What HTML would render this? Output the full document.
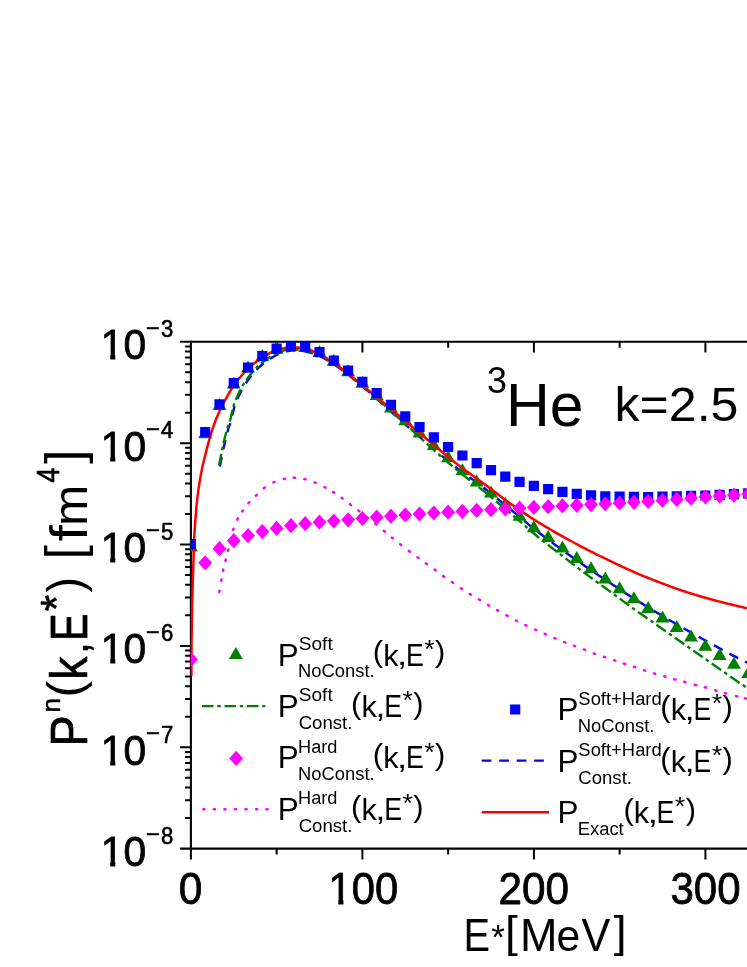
<!DOCTYPE html>
<html><head><meta charset="utf-8"><title>chart</title>
<style>html,body{margin:0;padding:0;background:#fff}svg{display:block;will-change:transform}text{font-family:"Liberation Sans",sans-serif;font-kerning:none}</style></head>
<body>
<svg width="747" height="967" viewBox="0 0 747 967" font-family="'Liberation Sans', sans-serif" style="font-kerning:none">
<rect width="747" height="967" fill="#fff"/>
<defs><clipPath id="c1_0"><path d="M-0.04,-31.76 H25.41 V-4.54 H15.46 V2 H10.18 V-4.54 H-0.04Z"/></clipPath><clipPath id="c1_1"><path d="M-0.04,-31.76 H25.41 V-4.54 H15.46 V2 H10.18 V-4.54 H-0.04Z"/></clipPath><clipPath id="c1_2"><path d="M-0.04,-31.76 H25.41 V-4.54 H15.46 V2 H10.18 V-4.54 H-0.04Z"/></clipPath><clipPath id="c1_3"><path d="M-0.04,-31.76 H25.41 V-4.54 H15.46 V2 H10.18 V-4.54 H-0.04Z"/></clipPath><clipPath id="c1_4"><path d="M-0.04,-31.76 H25.41 V-4.54 H15.46 V2 H10.18 V-4.54 H-0.04Z"/></clipPath><clipPath id="c1_5"><path d="M-0.04,-31.76 H25.41 V-4.54 H15.46 V2 H10.18 V-4.54 H-0.04Z"/></clipPath><clipPath id="c1_6"><path d="M-0.04,-32.07 H25.66 V-4.57 H15.60 V2 H10.29 V-4.57 H-0.04Z"/></clipPath></defs>
<defs><clipPath id="cp"><rect x="190.70" y="341.80" width="569.10" height="506.80"/></clipPath></defs>
<g stroke="#000" fill="none">
<path d="M190.90,849.65 V340.75" stroke-width="2.1"/>
<path d="M180.10,341.80 H760" stroke-width="2.1"/>
<path d="M180.10,848.60 H760" stroke-width="2.1"/>
<path d="M185.10,412.65H190.90 M185.10,394.80H190.90 M185.10,382.14H190.90 M185.10,372.31H190.90 M185.10,364.29H190.90 M185.10,357.50H190.90 M185.10,351.62H190.90 M185.10,346.44H190.90 M180.10,443.16H190.90 M185.10,514.01H190.90 M185.10,496.16H190.90 M185.10,483.50H190.90 M185.10,473.67H190.90 M185.10,465.65H190.90 M185.10,458.86H190.90 M185.10,452.98H190.90 M185.10,447.80H190.90 M180.10,544.52H190.90 M185.10,615.37H190.90 M185.10,597.52H190.90 M185.10,584.86H190.90 M185.10,575.03H190.90 M185.10,567.01H190.90 M185.10,560.22H190.90 M185.10,554.34H190.90 M185.10,549.16H190.90 M180.10,645.88H190.90 M185.10,716.73H190.90 M185.10,698.88H190.90 M185.10,686.22H190.90 M185.10,676.39H190.90 M185.10,668.37H190.90 M185.10,661.58H190.90 M185.10,655.70H190.90 M185.10,650.52H190.90 M180.10,747.24H190.90 M185.10,818.09H190.90 M185.10,800.24H190.90 M185.10,787.58H190.90 M185.10,777.75H190.90 M185.10,769.73H190.90 M185.10,762.94H190.90 M185.10,757.06H190.90 M185.10,751.88H190.90 M190.90,848.60v10.8 M276.65,848.60v5.9 M276.65,341.80v5.9 M362.40,848.60v10.8 M362.40,341.80v10.8 M448.15,848.60v5.9 M448.15,341.80v5.9 M533.90,848.60v10.8 M533.90,341.80v10.8 M619.65,848.60v5.9 M619.65,341.80v5.9 M705.40,848.60v10.8 M705.40,341.80v10.8" stroke-width="2.0"/>
</g>
<g clip-path="url(#cp)" fill="none">
<path d="M219.90,466.50 L220.12,465.36 L220.42,463.83 L220.77,462.01 L221.16,459.99 L221.58,457.87 L222.00,455.74 L222.41,453.68 L222.80,451.80 L223.17,450.04 L223.54,448.28 L223.92,446.54 L224.29,444.82 L224.67,443.13 L225.05,441.47 L225.42,439.86 L225.80,438.30 L226.18,436.77 L226.57,435.26 L226.96,433.77 L227.35,432.33 L227.73,430.95 L228.11,429.64 L228.46,428.42 L228.80,427.30 L229.11,426.36 L229.38,425.63 L229.64,425.02 L229.89,424.46 L230.14,423.89 L230.40,423.22 L230.68,422.38 L231.00,421.30 L231.35,419.94 L231.72,418.34 L232.10,416.59 L232.51,414.73 L232.92,412.85 L233.34,411.00 L233.77,409.27 L234.20,407.70 L234.63,406.31 L235.05,405.02 L235.48,403.82 L235.91,402.67 L236.37,401.54 L236.84,400.40 L237.35,399.23 L237.90,398.00 L238.49,396.69 L239.13,395.33 L239.80,393.94 L240.50,392.54 L241.21,391.16 L241.92,389.81 L242.62,388.52 L243.30,387.30 L243.97,386.16 L244.63,385.09 L245.29,384.06 L245.95,383.07 L246.61,382.11 L247.27,381.17 L247.93,380.23 L248.60,379.30 L249.27,378.37 L249.95,377.44 L250.62,376.53 L251.30,375.63 L251.98,374.76 L252.65,373.91 L253.33,373.09 L254.00,372.30 L254.66,371.56 L255.30,370.86 L255.94,370.19 L256.58,369.55 L257.23,368.92 L257.89,368.29 L258.58,367.66 L259.30,367.00 L260.06,366.32 L260.84,365.63 L261.65,364.93 L262.48,364.23 L263.32,363.54 L264.15,362.87 L264.98,362.22 L265.80,361.60 L266.60,361.01 L267.41,360.44 L268.21,359.90 L269.01,359.37 L269.80,358.86 L270.60,358.36 L271.40,357.87 L272.20,357.40 L272.99,356.94 L273.78,356.50 L274.56,356.07 L275.35,355.65 L276.14,355.25 L276.94,354.85 L277.76,354.47 L278.60,354.10 L279.47,353.73 L280.37,353.36 L281.29,353.00 L282.23,352.65 L283.15,352.32 L284.07,352.01 L284.95,351.74 L285.80,351.50 L286.60,351.30 L287.36,351.13 L288.09,350.99 L288.81,350.87 L289.53,350.78 L290.26,350.71 L291.01,350.65 L291.80,350.60 L292.63,350.57 L293.47,350.56 L294.34,350.57 L295.22,350.59 L296.11,350.63 L297.01,350.68 L297.91,350.74 L298.80,350.80 L299.64,350.84 L300.42,350.87 L301.18,350.88 L301.95,350.92 L302.79,350.99 L303.71,351.11 L304.78,351.31 L306.02,351.60 L307.47,351.98 L309.10,352.41 L310.86,352.91 L312.72,353.48 L314.64,354.10 L316.57,354.77 L318.48,355.51 L320.31,356.30 L322.10,357.16 L323.88,358.09 L325.67,359.08 L327.45,360.13 L329.24,361.23 L331.03,362.36 L332.81,363.52 L334.60,364.70 L336.39,365.91 L338.17,367.17 L339.96,368.46 L341.75,369.79 L343.53,371.14 L345.32,372.51 L347.10,373.90 L348.89,375.30 L350.68,376.71 L352.46,378.15 L354.25,379.61 L356.03,381.09 L357.82,382.58 L359.61,384.08 L361.39,385.59 L363.18,387.10 L364.97,388.62 L366.75,390.15 L368.54,391.69 L370.32,393.24 L372.11,394.79 L373.90,396.36 L375.68,397.93 L377.47,399.50 L379.26,401.08 L381.04,402.67 L382.83,404.26 L384.61,405.86 L386.40,407.47 L388.19,409.08 L389.97,410.69 L391.76,412.30 L393.55,413.92 L395.33,415.54 L397.12,417.16 L398.91,418.79 L400.69,420.42 L402.46,421.97 L404.23,423.51 L406.00,425.05 L407.77,426.59 L409.53,428.12 L411.30,429.66 L413.07,431.19 L414.84,432.73 L416.61,434.26 L418.38,435.80 L420.14,437.33 L421.91,438.86 L423.68,440.40 L425.45,441.94 L427.22,443.48 L428.99,445.01 L430.75,446.53 L432.52,448.05 L434.29,449.55 L436.06,451.03 L437.83,452.52 L439.60,453.99 L441.37,455.45 L443.13,456.91 L444.90,458.36 L446.67,459.79 L448.44,461.22 L450.21,462.64 L451.98,464.06 L453.74,465.47 L455.51,466.88 L457.28,468.27 L459.05,469.65 L460.82,471.01 L462.59,472.34 L464.35,473.65 L466.12,474.92 L467.89,476.18 L469.66,477.42 L471.43,478.65 L473.20,479.89 L474.96,481.14 L476.73,482.40 L478.50,483.68 L480.27,484.99 L482.06,486.39 L483.84,487.80 L485.63,489.22 L487.42,490.64 L489.20,492.07 L490.99,493.49 L492.78,494.93 L494.56,496.38 L496.35,497.84 L498.13,499.31 L499.92,500.78 L501.71,502.25 L503.49,503.71 L505.28,505.18 L507.07,506.63 L508.85,508.08 L510.64,509.53 L512.42,510.97 L514.21,512.42 L516.00,513.88 L517.78,515.33 L519.57,516.80 L521.36,518.28 L523.14,519.79 L524.93,521.30 L526.72,522.82 L528.50,524.32 L530.29,525.82 L532.07,527.29 L533.86,528.74 L535.65,530.15 L537.43,531.55 L539.22,532.93 L541.00,534.30 L542.79,535.65 L544.58,537.00 L546.36,538.34 L548.15,539.68 L549.94,541.00 L551.72,542.32 L553.51,543.63 L555.29,544.93 L557.08,546.22 L558.87,547.50 L560.65,548.79 L562.44,550.09 L564.23,551.38 L566.01,552.67 L567.80,553.96 L569.58,555.24 L571.37,556.52 L573.16,557.80 L574.94,559.07 L576.73,560.34 L578.52,561.60 L580.30,562.85 L582.09,564.11 L583.88,565.35 L585.66,566.59 L587.45,567.83 L589.23,569.06 L591.02,570.29 L592.81,571.50 L594.59,572.70 L596.38,573.87 L598.16,575.04 L599.95,576.20 L601.74,577.36 L603.52,578.53 L605.31,579.70 L607.10,580.88 L608.88,582.07 L610.67,583.25 L612.45,584.44 L614.24,585.63 L616.03,586.81 L617.81,588.00 L619.60,589.18 L621.39,590.36 L623.17,591.55 L624.96,592.73 L626.75,593.90 L628.53,595.06 L630.32,596.22 L632.10,597.37 L633.89,598.51 L635.68,599.64 L637.46,600.76 L639.25,601.87 L641.03,602.97 L642.82,604.07 L644.61,605.17 L646.39,606.26 L648.18,607.35 L649.97,608.44 L651.75,609.53 L653.54,610.61 L655.33,611.69 L657.11,612.76 L658.90,613.82 L660.68,614.89 L662.47,615.94 L664.26,617.00 L666.04,618.06 L667.83,619.12 L669.62,620.17 L671.40,621.22 L673.19,622.27 L674.97,623.32 L676.76,624.34 L678.55,625.37 L680.33,626.39 L682.12,627.41 L683.90,628.43 L685.69,629.45 L687.48,630.47 L689.26,631.49 L691.05,632.50 L692.84,633.52 L694.62,634.52 L696.41,635.52 L698.19,636.51 L699.98,637.50 L701.77,638.48 L703.55,639.46 L705.34,640.43 L707.13,641.43 L708.91,642.43 L710.70,643.42 L712.48,644.41 L714.27,645.40 L716.06,646.39 L717.84,647.37 L719.63,648.35 L721.42,649.33 L723.20,650.30 L724.99,651.27 L726.77,652.23 L728.56,653.19 L730.35,654.13 L732.13,655.07 L733.92,656.00 L735.71,656.92 L737.49,657.83 L739.28,658.71 L741.06,659.60 L742.85,660.48 L744.64,661.35 L746.42,662.23 L748.21,663.10 L750.09,664.03 L752.12,665.02 L754.20,666.04 L756.25,666.96 L758.19,667.67 L759.93,668.30 L761.40,668.83 L762.50,669.22" stroke="#0000ff" stroke-width="2.4" stroke-dasharray="9.7 7.8"/>
<path d="M219.10,465.20 L219.32,464.06 L219.62,462.53 L219.97,460.71 L220.36,458.69 L220.78,456.57 L221.20,454.44 L221.61,452.38 L222.00,450.50 L222.37,448.74 L222.74,446.98 L223.12,445.24 L223.49,443.52 L223.87,441.83 L224.25,440.17 L224.62,438.56 L225.00,437.00 L225.38,435.47 L225.77,433.96 L226.16,432.47 L226.55,431.03 L226.93,429.65 L227.31,428.34 L227.66,427.12 L228.00,426.00 L228.31,425.06 L228.58,424.33 L228.84,423.72 L229.09,423.16 L229.34,422.59 L229.60,421.92 L229.88,421.08 L230.20,420.00 L230.55,418.64 L230.92,417.04 L231.30,415.29 L231.71,413.43 L232.12,411.55 L232.54,409.70 L232.97,407.97 L233.40,406.40 L233.83,405.01 L234.25,403.72 L234.68,402.52 L235.11,401.37 L235.57,400.24 L236.04,399.10 L236.55,397.93 L237.10,396.70 L237.69,395.39 L238.33,394.03 L239.00,392.64 L239.70,391.24 L240.41,389.86 L241.12,388.51 L241.82,387.22 L242.50,386.00 L243.17,384.86 L243.83,383.79 L244.49,382.76 L245.15,381.77 L245.81,380.81 L246.47,379.87 L247.13,378.93 L247.80,378.00 L248.47,377.07 L249.15,376.14 L249.82,375.23 L250.50,374.33 L251.18,373.46 L251.85,372.61 L252.53,371.79 L253.20,371.00 L253.86,370.26 L254.50,369.56 L255.14,368.89 L255.78,368.25 L256.43,367.62 L257.09,366.99 L257.78,366.36 L258.50,365.70 L259.26,365.02 L260.04,364.33 L260.85,363.63 L261.68,362.93 L262.52,362.24 L263.35,361.57 L264.18,360.92 L265.00,360.30 L265.80,359.71 L266.61,359.14 L267.41,358.60 L268.21,358.07 L269.00,357.56 L269.80,357.06 L270.60,356.57 L271.40,356.10 L272.19,355.64 L272.98,355.20 L273.76,354.77 L274.55,354.35 L275.34,353.95 L276.14,353.55 L276.96,353.17 L277.80,352.80 L278.67,352.43 L279.57,352.06 L280.49,351.70 L281.43,351.35 L282.35,351.02 L283.27,350.71 L284.15,350.44 L285.00,350.20 L285.80,350.00 L286.56,349.83 L287.29,349.69 L288.01,349.57 L288.73,349.48 L289.46,349.41 L290.21,349.35 L291.00,349.30 L291.83,349.27 L292.67,349.26 L293.54,349.27 L294.42,349.29 L295.31,349.33 L296.21,349.38 L297.11,349.44 L298.00,349.50 L298.84,349.54 L299.62,349.57 L300.38,349.58 L301.15,349.62 L301.99,349.69 L302.91,349.81 L303.98,350.01 L305.22,350.30 L306.67,350.68 L308.30,351.11 L310.06,351.61 L311.92,352.18 L313.84,352.80 L315.77,353.47 L317.68,354.21 L319.51,355.00 L321.30,355.86 L323.08,356.79 L324.87,357.78 L326.65,358.83 L328.44,359.93 L330.23,361.06 L332.01,362.22 L333.80,363.40 L335.59,364.61 L337.37,365.87 L339.16,367.16 L340.94,368.49 L342.73,369.84 L344.52,371.21 L346.30,372.60 L348.09,374.00 L349.88,375.41 L351.66,376.85 L353.45,378.31 L355.23,379.79 L357.02,381.28 L358.81,382.78 L360.59,384.29 L362.38,385.80 L364.17,387.32 L365.95,388.85 L367.74,390.39 L369.52,391.94 L371.31,393.49 L373.10,395.06 L374.88,396.63 L376.67,398.20 L378.46,399.78 L380.24,401.37 L382.03,402.96 L383.81,404.56 L385.60,406.17 L387.39,407.78 L389.17,409.39 L390.96,411.00 L392.75,412.62 L394.53,414.24 L396.32,415.86 L398.11,417.49 L399.89,419.12 L401.68,420.75 L403.46,422.37 L405.25,424.00 L407.04,425.62 L408.82,427.25 L410.61,428.88 L412.39,430.50 L414.18,432.12 L415.97,433.75 L417.75,435.38 L419.54,437.00 L421.33,438.63 L423.11,440.26 L424.90,441.90 L426.68,443.53 L428.47,445.16 L430.26,446.79 L432.04,448.40 L433.83,450.00 L435.62,451.59 L437.40,453.17 L439.19,454.75 L440.98,456.31 L442.76,457.87 L444.55,459.42 L446.33,460.96 L448.12,462.50 L449.91,464.03 L451.69,465.56 L453.48,467.08 L455.26,468.59 L457.05,470.10 L458.84,471.58 L460.62,473.05 L462.41,474.50 L464.20,475.92 L465.98,477.31 L467.77,478.68 L469.55,480.03 L471.34,481.38 L473.13,482.74 L474.91,484.11 L476.70,485.50 L478.49,486.91 L480.27,488.33 L482.06,489.75 L483.84,491.19 L485.63,492.63 L487.42,494.08 L489.20,495.54 L490.99,497.00 L492.78,498.48 L494.56,499.96 L496.35,501.46 L498.13,502.97 L499.92,504.48 L501.71,505.99 L503.49,507.50 L505.28,509.00 L507.07,510.50 L508.85,511.99 L510.64,513.48 L512.42,514.97 L514.21,516.46 L516.00,517.96 L517.78,519.48 L519.57,521.00 L521.36,522.55 L523.14,524.11 L524.93,525.69 L526.72,527.28 L528.50,528.86 L530.29,530.43 L532.07,531.98 L533.86,533.50 L535.65,534.99 L537.43,536.46 L539.22,537.91 L541.00,539.34 L542.79,540.77 L544.58,542.18 L546.36,543.59 L548.15,545.00 L549.94,546.40 L551.72,547.79 L553.51,549.16 L555.29,550.53 L557.08,551.90 L558.87,553.26 L560.65,554.63 L562.44,556.00 L564.23,557.38 L566.01,558.76 L567.80,560.14 L569.58,561.52 L571.37,562.90 L573.16,564.27 L574.94,565.64 L576.73,567.00 L578.52,568.35 L580.30,569.71 L582.09,571.05 L583.88,572.39 L585.66,573.73 L587.45,575.06 L589.23,576.38 L591.02,577.70 L592.81,579.01 L594.59,580.30 L596.38,581.58 L598.16,582.86 L599.95,584.14 L601.74,585.42 L603.52,586.71 L605.31,588.00 L607.10,589.30 L608.88,590.61 L610.67,591.92 L612.45,593.24 L614.24,594.55 L616.03,595.87 L617.81,597.19 L619.60,598.50 L621.39,599.82 L623.17,601.14 L624.96,602.46 L626.75,603.78 L628.53,605.10 L630.32,606.41 L632.10,607.71 L633.89,609.00 L635.68,610.27 L637.46,611.54 L639.25,612.79 L641.03,614.03 L642.82,615.27 L644.61,616.51 L646.39,617.75 L648.18,619.00 L649.97,620.25 L651.75,621.50 L653.54,622.75 L655.33,624.00 L657.11,625.25 L658.90,626.50 L660.68,627.75 L662.47,629.00 L664.26,630.25 L666.04,631.50 L667.83,632.75 L669.62,634.00 L671.40,635.25 L673.19,636.50 L674.97,637.75 L676.76,639.00 L678.55,640.25 L680.33,641.50 L682.12,642.75 L683.90,644.00 L685.69,645.25 L687.48,646.50 L689.26,647.75 L691.05,649.00 L692.84,650.25 L694.62,651.50 L696.41,652.75 L698.19,654.00 L699.98,655.25 L701.77,656.50 L703.55,657.75 L705.34,659.00 L707.13,660.25 L708.91,661.50 L710.70,662.75 L712.48,664.00 L714.27,665.25 L716.06,666.50 L717.84,667.75 L719.63,669.00 L721.42,670.25 L723.20,671.51 L724.99,672.76 L726.77,674.02 L728.56,675.27 L730.35,676.52 L732.13,677.76 L733.92,679.00 L735.71,680.23 L737.49,681.44 L739.28,682.66 L741.06,683.86 L742.85,685.07 L744.64,686.27 L746.42,687.48 L748.21,688.70 L750.09,689.99 L752.12,691.37 L754.20,692.80 L756.25,694.21 L758.19,695.54 L759.93,696.74 L761.40,697.74 L762.50,698.50" stroke="#008000" stroke-width="2.4" stroke-dasharray="11.5 3.75 3.5 3.75"/>
<path d="M190.90,539.43 L197.90,551.43 L183.90,551.43Z M205.19,426.32 L212.19,438.32 L198.19,438.32Z M219.48,397.99 L226.48,409.99 L212.48,409.99Z M233.77,376.45 L240.77,388.45 L226.77,388.45Z M248.06,360.48 L255.06,372.48 L241.06,372.48Z M262.35,348.92 L269.35,360.92 L255.35,360.92Z M276.64,341.45 L283.64,353.45 L269.64,353.45Z M290.93,338.75 L297.93,350.75 L283.93,350.75Z M305.22,339.80 L312.22,351.80 L298.22,351.80Z M319.51,345.03 L326.51,357.03 L312.51,357.03Z M333.80,353.77 L340.80,365.77 L326.80,365.77Z M348.09,364.21 L355.09,376.21 L341.09,376.21Z M362.38,375.82 L369.38,387.82 L355.38,387.82Z M376.67,387.91 L383.67,399.91 L369.67,399.91Z M390.96,400.56 L397.96,412.56 L383.96,412.56Z M405.25,413.24 L412.25,425.24 L398.25,425.24Z M419.54,425.57 L426.54,437.57 L412.54,437.57Z M433.83,438.11 L440.83,450.11 L426.83,450.11Z M448.12,450.36 L455.12,462.36 L441.12,462.36Z M462.41,463.30 L469.41,475.30 L455.41,475.30Z M476.70,474.60 L483.70,486.60 L469.70,486.60Z M490.99,485.60 L497.99,497.60 L483.99,497.60Z M505.28,496.70 L512.28,508.70 L498.28,508.70Z M519.57,508.70 L526.57,520.70 L512.57,520.70Z M533.86,520.30 L540.86,532.30 L526.86,532.30Z M548.15,530.00 L555.15,542.00 L541.15,542.00Z M562.44,540.50 L569.44,552.50 L555.44,552.50Z M576.73,551.10 L583.73,563.10 L569.73,563.10Z M591.02,561.30 L598.02,573.30 L584.02,573.30Z M605.31,571.40 L612.31,583.40 L598.31,583.40Z M619.60,581.20 L626.60,593.20 L612.60,593.20Z M633.89,591.20 L640.89,603.20 L626.89,603.20Z M648.18,600.90 L655.18,612.90 L641.18,612.90Z M662.47,610.60 L669.47,622.60 L655.47,622.60Z M676.76,619.90 L683.76,631.90 L669.76,631.90Z M691.05,629.60 L698.05,641.60 L684.05,641.60Z M705.34,638.70 L712.34,650.70 L698.34,650.70Z M719.63,647.90 L726.63,659.90 L712.63,659.90Z M733.92,656.80 L740.92,668.80 L726.92,668.80Z M748.21,666.00 L755.21,678.00 L741.21,678.00Z" fill="#008000"/>
<path d="M219.28,591.94 L219.52,590.66 M221.28,580.84 L221.52,579.56 M223.07,570.84 L223.33,569.56 M225.44,560.83 L225.76,559.57 M228.05,550.73 L228.35,549.47 M230.45,540.13 L230.75,538.87 M232.99,530.02 L233.41,528.78 M237.30,519.58 L237.90,518.42 M242.23,511.53 L242.97,510.47 M248.47,503.19 L249.33,502.21 M255.83,495.75 L256.77,494.85 M263.78,488.29 L264.82,487.51 M273.41,482.47 L274.59,481.93 M283.76,478.94 L285.04,478.66 M293.75,477.79 L295.05,477.81 M304.37,479.05 L305.63,479.35 M314.50,482.46 L315.70,482.94 M324.42,487.00 L325.58,487.60 M333.05,491.95 L334.15,492.65 M341.57,497.72 L342.63,498.48 M349.98,504.11 L351.02,504.89 M358.29,510.40 L359.31,511.20 M366.79,517.10 L367.81,517.90 M375.29,523.79 L376.31,524.61 M383.80,530.78 L384.80,531.62 M391.80,537.49 L392.80,538.31 M400.19,544.30 L401.21,545.10 M408.88,550.91 L409.92,551.69 M417.48,557.31 L418.52,558.09 M425.87,563.42 L426.93,564.18 M434.57,569.62 L435.63,570.38 M443.17,576.02 L444.23,576.78 M451.96,582.03 L453.04,582.77 M460.86,588.24 L461.94,588.96 M469.75,593.96 L470.85,594.64 M478.94,599.37 L480.06,600.03 M488.04,604.97 L489.16,605.63 M497.23,610.08 L498.37,610.72 M506.43,615.28 L507.57,615.92 M515.92,620.50 L517.08,621.10 M525.31,625.12 L526.49,625.68 M535.11,629.54 L536.29,630.06 M544.81,633.84 L545.99,634.36 M554.40,638.05 L555.60,638.55 M564.09,642.06 L565.31,642.54 M573.89,645.67 L575.11,646.13 M583.79,649.46 L585.01,649.94 M593.79,653.48 L595.01,653.92 M603.98,656.80 L605.22,657.20 M614.08,660.19 L615.32,660.61 M623.88,663.60 L625.12,664.00 M633.98,666.80 L635.22,667.20 M643.98,670.20 L645.22,670.60 M653.98,673.41 L655.22,673.79 M664.28,676.32 L665.52,676.68 M674.27,679.23 L675.53,679.57 M684.27,681.83 L685.53,682.17 M694.77,684.73 L696.03,685.07 M704.77,687.23 L706.03,687.57 M715.28,690.32 L716.52,690.68 M724.87,693.12 L726.13,693.48 M735.97,696.14 L737.23,696.46 M744.97,698.34 L746.23,698.66 M754.97,700.84 L756.23,701.16" stroke="#ff00ff" stroke-width="2.5" stroke-linecap="round"/>
<path d="M191.40,676.00 L191.41,673.25 L191.42,669.62 L191.44,665.31 L191.46,660.50 L191.48,655.38 L191.51,650.12 L191.55,644.94 L191.60,640.00 L191.66,635.12 L191.74,630.05 L191.82,624.85 L191.91,619.62 L192.00,614.44 L192.10,609.39 L192.20,604.55 L192.30,600.00 L192.40,595.77 L192.51,591.80 L192.62,588.02 L192.74,584.38 L192.85,580.81 L192.97,577.27 L193.09,573.68 L193.20,570.00 L193.31,566.18 L193.42,562.27 L193.52,558.31 L193.62,554.38 L193.73,550.52 L193.85,546.80 L193.97,543.27 L194.10,540.00 L194.24,537.01 L194.39,534.27 L194.55,531.72 L194.71,529.31 L194.87,526.99 L195.04,524.70 L195.22,522.38 L195.40,520.00 L195.58,517.56 L195.76,515.13 L195.95,512.71 L196.14,510.31 L196.34,507.93 L196.54,505.59 L196.76,503.27 L197.00,501.00 L197.25,498.77 L197.51,496.58 L197.79,494.42 L198.07,492.29 L198.37,490.19 L198.67,488.11 L198.98,486.05 L199.30,484.00 L199.62,481.96 L199.95,479.94 L200.29,477.93 L200.64,475.95 L200.99,473.99 L201.35,472.06 L201.72,470.16 L202.10,468.30 L202.48,466.50 L202.87,464.76 L203.27,463.06 L203.67,461.39 L204.08,459.72 L204.51,458.03 L204.95,456.29 L205.40,454.50 L205.87,452.65 L206.35,450.76 L206.83,448.83 L207.34,446.89 L207.85,444.92 L208.39,442.95 L208.93,440.97 L209.50,439.00 L210.08,437.02 L210.68,435.00 L211.29,432.98 L211.91,430.95 L212.56,428.93 L213.22,426.92 L213.90,424.94 L214.60,423.00 L215.34,421.07 L216.11,419.14 L216.91,417.21 L217.72,415.31 L218.54,413.45 L219.35,411.65 L220.14,409.93 L220.90,408.30 L221.63,406.78 L222.33,405.35 L223.03,404.00 L223.71,402.71 L224.38,401.47 L225.05,400.24 L225.72,399.03 L226.40,397.80 L227.08,396.57 L227.76,395.35 L228.44,394.15 L229.11,392.96 L229.79,391.80 L230.46,390.67 L231.13,389.57 L231.80,388.50 L232.47,387.47 L233.13,386.47 L233.79,385.51 L234.45,384.57 L235.11,383.66 L235.77,382.76 L236.43,381.88 L237.10,381.00 L237.77,380.13 L238.45,379.28 L239.12,378.45 L239.80,377.63 L240.48,376.83 L241.15,376.04 L241.83,375.26 L242.50,374.50 L243.17,373.75 L243.83,373.02 L244.49,372.30 L245.15,371.59 L245.81,370.90 L246.47,370.22 L247.13,369.56 L247.80,368.90 L248.47,368.25 L249.15,367.62 L249.82,367.00 L250.50,366.39 L251.18,365.79 L251.85,365.21 L252.53,364.65 L253.20,364.10 L253.86,363.58 L254.50,363.09 L255.14,362.62 L255.78,362.16 L256.43,361.71 L257.09,361.25 L257.78,360.79 L258.50,360.30 L259.26,359.79 L260.04,359.27 L260.85,358.74 L261.68,358.20 L262.52,357.66 L263.35,357.13 L264.18,356.61 L265.00,356.10 L265.81,355.60 L266.63,355.09 L267.44,354.58 L268.26,354.08 L269.06,353.60 L269.86,353.14 L270.64,352.70 L271.40,352.30 L272.12,351.94 L272.80,351.61 L273.45,351.31 L274.10,351.04 L274.76,350.77 L275.45,350.52 L276.19,350.26 L277.00,350.00 L277.90,349.73 L278.88,349.45 L279.92,349.17 L280.98,348.90 L282.05,348.64 L283.09,348.40 L284.08,348.19 L285.00,348.00 L285.78,347.84 L286.43,347.69 L287.01,347.55 L287.57,347.44 L288.18,347.36 L288.91,347.30 L289.80,347.28 L290.93,347.30 L292.32,347.34 L293.91,347.38 L295.68,347.45 L297.55,347.55 L299.49,347.70 L301.45,347.92 L303.38,348.21 L305.22,348.60 L307.01,349.08 L308.79,349.65 L310.58,350.28 L312.37,350.99 L314.15,351.75 L315.94,352.56 L317.72,353.41 L319.51,354.30 L321.30,355.23 L323.08,356.21 L324.87,357.25 L326.65,358.33 L328.44,359.45 L330.23,360.61 L332.01,361.79 L333.80,363.00 L335.59,364.24 L337.37,365.53 L339.16,366.86 L340.94,368.22 L342.73,369.60 L344.52,370.99 L346.30,372.40 L348.09,373.80 L349.88,375.21 L351.66,376.64 L353.45,378.09 L355.23,379.54 L357.02,381.01 L358.81,382.47 L360.59,383.94 L362.38,385.40 L364.17,386.86 L365.95,388.31 L367.74,389.77 L369.52,391.23 L371.31,392.69 L373.10,394.16 L374.88,395.63 L376.67,397.10 L378.46,398.58 L380.24,400.06 L382.03,401.54 L383.81,403.03 L385.60,404.52 L387.39,406.01 L389.17,407.51 L390.96,409.00 L392.75,410.50 L394.53,411.99 L396.32,413.49 L398.11,414.99 L399.89,416.50 L401.68,418.00 L403.46,419.50 L405.25,421.00 L407.04,422.50 L408.82,424.00 L410.61,425.50 L412.39,427.00 L414.18,428.50 L415.97,430.00 L417.75,431.50 L419.54,433.00 L421.33,434.50 L423.11,436.00 L424.90,437.50 L426.68,439.00 L428.47,440.50 L430.26,442.00 L432.04,443.50 L433.83,445.00 L435.62,446.51 L437.40,448.02 L439.19,449.54 L440.98,451.05 L442.76,452.56 L444.55,454.06 L446.33,455.54 L448.12,457.00 L449.91,458.44 L451.69,459.88 L453.48,461.30 L455.26,462.71 L457.05,464.10 L458.84,465.48 L460.62,466.85 L462.41,468.20 L464.20,469.53 L465.98,470.83 L467.77,472.12 L469.55,473.39 L471.34,474.66 L473.13,475.93 L474.91,477.21 L476.70,478.50 L478.49,479.80 L480.27,481.10 L482.06,482.41 L483.84,483.72 L485.63,485.03 L487.42,486.35 L489.20,487.67 L490.99,489.00 L492.78,490.34 L494.56,491.69 L496.35,493.05 L498.13,494.42 L499.92,495.78 L501.71,497.14 L503.49,498.48 L505.28,499.80 L507.07,501.11 L508.85,502.41 L510.64,503.70 L512.42,504.98 L514.21,506.25 L516.00,507.51 L517.78,508.76 L519.57,510.00 L521.36,511.23 L523.14,512.44 L524.93,513.65 L526.72,514.84 L528.50,516.03 L530.29,517.20 L532.07,518.36 L533.86,519.50 L535.65,520.63 L537.43,521.75 L539.22,522.85 L541.00,523.94 L542.79,525.02 L544.58,526.09 L546.36,527.15 L548.15,528.20 L549.94,529.24 L551.72,530.27 L553.51,531.29 L555.29,532.30 L557.08,533.30 L558.87,534.30 L560.65,535.30 L562.44,536.30 L564.23,537.30 L566.01,538.30 L567.80,539.30 L569.58,540.29 L571.37,541.28 L573.16,542.26 L574.94,543.24 L576.73,544.20 L578.52,545.15 L580.30,546.09 L582.09,547.03 L583.88,547.96 L585.66,548.88 L587.45,549.79 L589.23,550.70 L591.02,551.60 L592.81,552.49 L594.59,553.38 L596.38,554.26 L598.16,555.13 L599.95,556.00 L601.74,556.87 L603.52,557.73 L605.31,558.60 L607.10,559.47 L608.88,560.34 L610.67,561.21 L612.45,562.08 L614.24,562.95 L616.03,563.81 L617.81,564.66 L619.60,565.50 L621.39,566.34 L623.17,567.16 L624.96,567.99 L626.75,568.81 L628.53,569.62 L630.32,570.42 L632.10,571.21 L633.89,572.00 L635.68,572.78 L637.46,573.55 L639.25,574.31 L641.03,575.06 L642.82,575.81 L644.61,576.55 L646.39,577.28 L648.18,578.00 L649.97,578.71 L651.75,579.41 L653.54,580.11 L655.33,580.79 L657.11,581.47 L658.90,582.15 L660.68,582.83 L662.47,583.50 L664.26,584.18 L666.04,584.85 L667.83,585.53 L669.62,586.20 L671.40,586.87 L673.19,587.52 L674.97,588.17 L676.76,588.80 L678.55,589.42 L680.33,590.03 L682.12,590.62 L683.90,591.21 L685.69,591.79 L687.48,592.37 L689.26,592.94 L691.05,593.50 L692.84,594.06 L694.62,594.61 L696.41,595.16 L698.19,595.71 L699.98,596.24 L701.77,596.77 L703.55,597.29 L705.34,597.80 L707.13,598.30 L708.91,598.79 L710.70,599.27 L712.48,599.74 L714.27,600.21 L716.06,600.68 L717.84,601.14 L719.63,601.60 L721.42,602.06 L723.20,602.52 L724.99,602.98 L726.77,603.43 L728.56,603.88 L730.35,604.33 L732.13,604.77 L733.92,605.20 L735.71,605.63 L737.49,606.05 L739.28,606.47 L741.06,606.89 L742.85,607.30 L744.64,607.70 L746.42,608.10 L748.21,608.50 L750.09,608.91 L752.12,609.34 L754.20,609.78 L756.25,610.21 L758.19,610.61 L759.93,610.97 L761.40,611.27 L762.50,611.50" stroke="#ff0000" stroke-width="2.5" stroke-linejoin="round"/>
<path d="M185.80,539.00h10.2v10.2h-10.2Z M200.09,426.90h10.2v10.2h-10.2Z M214.38,399.20h10.2v10.2h-10.2Z M228.67,378.10h10.2v10.2h-10.2Z M242.96,362.40h10.2v10.2h-10.2Z M257.25,351.00h10.2v10.2h-10.2Z M271.54,343.60h10.2v10.2h-10.2Z M285.83,340.90h10.2v10.2h-10.2Z M300.12,341.90h10.2v10.2h-10.2Z M314.41,347.00h10.2v10.2h-10.2Z M328.70,355.50h10.2v10.2h-10.2Z M342.99,365.60h10.2v10.2h-10.2Z M357.28,376.70h10.2v10.2h-10.2Z M371.57,388.10h10.2v10.2h-10.2Z M385.86,399.80h10.2v10.2h-10.2Z M400.15,411.20h10.2v10.2h-10.2Z M414.44,421.90h10.2v10.2h-10.2Z M428.73,432.30h10.2v10.2h-10.2Z M443.02,441.90h10.2v10.2h-10.2Z M457.31,450.40h10.2v10.2h-10.2Z M471.60,458.00h10.2v10.2h-10.2Z M485.89,465.10h10.2v10.2h-10.2Z M500.18,471.50h10.2v10.2h-10.2Z M514.47,476.70h10.2v10.2h-10.2Z M528.76,480.70h10.2v10.2h-10.2Z M543.05,484.10h10.2v10.2h-10.2Z M557.34,486.70h10.2v10.2h-10.2Z M571.63,488.80h10.2v10.2h-10.2Z M585.92,490.20h10.2v10.2h-10.2Z M600.21,491.20h10.2v10.2h-10.2Z M614.50,491.60h10.2v10.2h-10.2Z M628.79,491.80h10.2v10.2h-10.2Z M643.08,492.00h10.2v10.2h-10.2Z M657.37,491.60h10.2v10.2h-10.2Z M671.66,491.20h10.2v10.2h-10.2Z M685.95,490.80h10.2v10.2h-10.2Z M700.24,490.40h10.2v10.2h-10.2Z M714.53,489.80h10.2v10.2h-10.2Z M728.82,489.00h10.2v10.2h-10.2Z M743.11,488.20h10.2v10.2h-10.2Z" fill="#0000ff"/>
<path d="M190.90,651.80 L197.80,659.40 L190.90,667.00 L184.00,659.40Z M205.19,555.20 L212.09,562.80 L205.19,570.40 L198.29,562.80Z M219.48,541.10 L226.38,548.70 L219.48,556.30 L212.58,548.70Z M233.77,533.10 L240.67,540.70 L233.77,548.30 L226.87,540.70Z M248.06,528.10 L254.96,535.70 L248.06,543.30 L241.16,535.70Z M262.35,524.00 L269.25,531.60 L262.35,539.20 L255.45,531.60Z M276.64,520.80 L283.54,528.40 L276.64,536.00 L269.74,528.40Z M290.93,518.10 L297.83,525.70 L290.93,533.30 L284.03,525.70Z M305.22,516.10 L312.12,523.70 L305.22,531.30 L298.32,523.70Z M319.51,514.60 L326.41,522.20 L319.51,529.80 L312.61,522.20Z M333.80,513.40 L340.70,521.00 L333.80,528.60 L326.90,521.00Z M348.09,512.20 L354.99,519.80 L348.09,527.40 L341.19,519.80Z M362.38,510.80 L369.28,518.40 L362.38,526.00 L355.48,518.40Z M376.67,509.60 L383.57,517.20 L376.67,524.80 L369.77,517.20Z M390.96,508.60 L397.86,516.20 L390.96,523.80 L384.06,516.20Z M405.25,507.40 L412.15,515.00 L405.25,522.60 L398.35,515.00Z M419.54,506.40 L426.44,514.00 L419.54,521.60 L412.64,514.00Z M433.83,505.40 L440.73,513.00 L433.83,520.60 L426.93,513.00Z M448.12,504.60 L455.02,512.20 L448.12,519.80 L441.22,512.20Z M462.41,503.80 L469.31,511.40 L462.41,519.00 L455.51,511.40Z M476.70,502.80 L483.60,510.40 L476.70,518.00 L469.80,510.40Z M490.99,502.10 L497.89,509.70 L490.99,517.30 L484.09,509.70Z M505.28,501.30 L512.18,508.90 L505.28,516.50 L498.38,508.90Z M519.57,500.60 L526.47,508.20 L519.57,515.80 L512.67,508.20Z M533.86,499.80 L540.76,507.40 L533.86,515.00 L526.96,507.40Z M548.15,499.10 L555.05,506.70 L548.15,514.30 L541.25,506.70Z M562.44,498.30 L569.34,505.90 L562.44,513.50 L555.54,505.90Z M576.73,497.70 L583.63,505.30 L576.73,512.90 L569.83,505.30Z M591.02,497.00 L597.92,504.60 L591.02,512.20 L584.12,504.60Z M605.31,496.20 L612.21,503.80 L605.31,511.40 L598.41,503.80Z M619.60,495.40 L626.50,503.00 L619.60,510.60 L612.70,503.00Z M633.89,494.70 L640.79,502.30 L633.89,509.90 L626.99,502.30Z M648.18,493.80 L655.08,501.40 L648.18,509.00 L641.28,501.40Z M662.47,492.80 L669.37,500.40 L662.47,508.00 L655.57,500.40Z M676.76,491.80 L683.66,499.40 L676.76,507.00 L669.86,499.40Z M691.05,490.60 L697.95,498.20 L691.05,505.80 L684.15,498.20Z M705.34,489.40 L712.24,497.00 L705.34,504.60 L698.44,497.00Z M719.63,488.50 L726.53,496.10 L719.63,503.70 L712.73,496.10Z M733.92,487.50 L740.82,495.10 L733.92,502.70 L727.02,495.10Z M748.21,486.50 L755.11,494.10 L748.21,501.70 L741.31,494.10Z" fill="#ff00ff"/>
</g>
<text transform="translate(100.69,359.38) scale(0.9414,1)" font-size="43.36" fill="#000" stroke="#000" stroke-width="0.8" stroke-linejoin="round" clip-path="url(#c1_0)">1</text>
<text transform="translate(123.39,359.38) scale(0.9414,1)" font-size="43.36" fill="#000" stroke="#000" stroke-width="0.8" stroke-linejoin="round">0</text>
<text transform="translate(145.98,335.65) scale(1.0030,1)" font-size="23.60" fill="#000" stroke="#000" stroke-width="0.5" stroke-linejoin="round">−</text>
<text transform="translate(161.06,336.87) scale(0.9505,1)" font-size="23.30" fill="#000" stroke="#000" stroke-width="0.6" stroke-linejoin="round">3</text>
<text transform="translate(100.69,460.74) scale(0.9414,1)" font-size="43.36" fill="#000" stroke="#000" stroke-width="0.8" stroke-linejoin="round" clip-path="url(#c1_1)">1</text>
<text transform="translate(123.39,460.74) scale(0.9414,1)" font-size="43.36" fill="#000" stroke="#000" stroke-width="0.8" stroke-linejoin="round">0</text>
<text transform="translate(145.98,437.01) scale(1.0030,1)" font-size="23.60" fill="#000" stroke="#000" stroke-width="0.5" stroke-linejoin="round">−</text>
<text transform="translate(161.04,438.46) scale(0.9537,1)" font-size="23.30" fill="#000" stroke="#000" stroke-width="0.6" stroke-linejoin="round">4</text>
<text transform="translate(100.69,562.10) scale(0.9414,1)" font-size="43.36" fill="#000" stroke="#000" stroke-width="0.8" stroke-linejoin="round" clip-path="url(#c1_2)">1</text>
<text transform="translate(123.39,562.10) scale(0.9414,1)" font-size="43.36" fill="#000" stroke="#000" stroke-width="0.8" stroke-linejoin="round">0</text>
<text transform="translate(145.98,538.37) scale(1.0030,1)" font-size="23.60" fill="#000" stroke="#000" stroke-width="0.5" stroke-linejoin="round">−</text>
<text transform="translate(161.01,539.59) scale(0.9505,1)" font-size="23.30" fill="#000" stroke="#000" stroke-width="0.6" stroke-linejoin="round">5</text>
<text transform="translate(100.69,663.46) scale(0.9414,1)" font-size="43.36" fill="#000" stroke="#000" stroke-width="0.8" stroke-linejoin="round" clip-path="url(#c1_3)">1</text>
<text transform="translate(123.39,663.46) scale(0.9414,1)" font-size="43.36" fill="#000" stroke="#000" stroke-width="0.8" stroke-linejoin="round">0</text>
<text transform="translate(145.98,639.73) scale(1.0030,1)" font-size="23.60" fill="#000" stroke="#000" stroke-width="0.5" stroke-linejoin="round">−</text>
<text transform="translate(160.93,640.95) scale(0.9490,1)" font-size="23.30" fill="#000" stroke="#000" stroke-width="0.6" stroke-linejoin="round">6</text>
<text transform="translate(100.69,764.82) scale(0.9414,1)" font-size="43.36" fill="#000" stroke="#000" stroke-width="0.8" stroke-linejoin="round" clip-path="url(#c1_4)">1</text>
<text transform="translate(123.39,764.82) scale(0.9414,1)" font-size="43.36" fill="#000" stroke="#000" stroke-width="0.8" stroke-linejoin="round">0</text>
<text transform="translate(145.98,741.09) scale(1.0030,1)" font-size="23.60" fill="#000" stroke="#000" stroke-width="0.5" stroke-linejoin="round">−</text>
<text transform="translate(161.00,742.54) scale(0.9481,1)" font-size="23.30" fill="#000" stroke="#000" stroke-width="0.6" stroke-linejoin="round">7</text>
<text transform="translate(100.69,866.18) scale(0.9414,1)" font-size="43.36" fill="#000" stroke="#000" stroke-width="0.8" stroke-linejoin="round" clip-path="url(#c1_5)">1</text>
<text transform="translate(123.39,866.18) scale(0.9414,1)" font-size="43.36" fill="#000" stroke="#000" stroke-width="0.8" stroke-linejoin="round">0</text>
<text transform="translate(145.98,842.45) scale(1.0030,1)" font-size="23.60" fill="#000" stroke="#000" stroke-width="0.5" stroke-linejoin="round">−</text>
<text transform="translate(161.00,843.67) scale(0.9499,1)" font-size="23.30" fill="#000" stroke="#000" stroke-width="0.6" stroke-linejoin="round">8</text>
<text transform="translate(178.74,904.37) scale(0.9699,1)" font-size="43.78" fill="#000" stroke="#000" stroke-width="0.8" stroke-linejoin="round">0</text>
<text transform="translate(328.52,904.37) scale(0.9528,1)" font-size="43.78" fill="#000" stroke="#000" stroke-width="0.8" stroke-linejoin="round" clip-path="url(#c1_6)">1</text>
<text transform="translate(351.72,904.37) scale(0.9528,1)" font-size="43.78" fill="#000" stroke="#000" stroke-width="0.8" stroke-linejoin="round">00</text>
<text transform="translate(498.47,904.37) scale(0.9661,1)" font-size="43.78" fill="#000" stroke="#000" stroke-width="0.8" stroke-linejoin="round">200</text>
<text transform="translate(670.50,904.37) scale(0.9587,1)" font-size="43.78" fill="#000" stroke="#000" stroke-width="0.8" stroke-linejoin="round">300</text>
<text transform="translate(463.53,951.00) scale(0.8788,1)" font-size="45.35" fill="#000">E</text>
<text transform="translate(491.34,948.99) scale(0.9744,1)" font-size="35.89" fill="#000">*</text>
<text transform="translate(504.91,947.07) scale(1.0500,1)" font-size="43.99" fill="#000">[</text>
<text transform="translate(520.01,951.00) scale(0.9922,1)" font-size="45.35" fill="#000">M</text>
<text transform="translate(556.49,951.07) scale(0.9770,1)" font-size="43.62" fill="#000">e</text>
<text transform="translate(581.61,951.00) scale(0.9514,1)" font-size="45.35" fill="#000">V</text>
<text transform="translate(613.86,947.07) scale(1.0500,1)" font-size="43.99" fill="#000">]</text>
<text transform="translate(86.75,746.59) rotate(-90) scale(0.8892,1)" font-size="52.62" stroke="#000" stroke-width="0.7" stroke-linejoin="round">P</text>
<text transform="translate(59.55,712.39) rotate(-90) scale(1.0338,1)" font-size="25.27" stroke="#000" stroke-width="0.5" stroke-linejoin="round">n</text>
<text transform="translate(81.79,697.39) rotate(-90) scale(0.9996,1)" font-size="49.80">(</text>
<text transform="translate(86.80,679.72) rotate(-90) scale(0.9093,1)" font-size="50.92" stroke="#000" stroke-width="0.6" stroke-linejoin="round">k</text>
<text transform="translate(87.53,653.71) rotate(-90) scale(0.9116,1)" font-size="44.71" stroke="#000" stroke-width="0.5" stroke-linejoin="round">,</text>
<text transform="translate(86.70,640.99) rotate(-90) scale(0.7876,1)" font-size="52.47" stroke="#000" stroke-width="0.8" stroke-linejoin="round">E</text>
<text transform="translate(72.26,611.28) rotate(-90) scale(0.9266,1)" font-size="45.29" stroke="#000" stroke-width="0.6" stroke-linejoin="round">*</text>
<text transform="translate(81.79,592.57) rotate(-90) scale(0.9390,1)" font-size="49.80">)</text>
<text transform="translate(81.80,559.61) rotate(-90) scale(1.0000,1)" font-size="52.03">[</text>
<text transform="translate(87.10,541.24) rotate(-90) scale(1.1200,1)" font-size="51.96">f</text>
<text transform="translate(87.10,526.10) rotate(-90) scale(1.0439,1)" font-size="47.58">m</text>
<text transform="translate(59.45,482.46) rotate(-90) scale(0.8470,1)" font-size="31.40" stroke="#000" stroke-width="0.7" stroke-linejoin="round">4</text>
<text transform="translate(81.80,463.95) rotate(-90) scale(1.0000,1)" font-size="52.03">]</text>
<text transform="translate(487.03,393.35) scale(0.9878,1)" font-size="36.30" fill="#000">3</text>
<text transform="translate(506.02,425.90) scale(0.9804,1)" font-size="61.90" fill="#000">He</text>
<text transform="translate(614.53,420.60) scale(1.0453,1)" font-size="47.90" fill="#000">k=2.5</text>
<text transform="translate(277.83,665.60) scale(1.0280,1)" font-size="30.52" fill="#000">P</text>
<text transform="translate(298.73,650.00) scale(1.0863,1)" font-size="17.60" fill="#000">Soft</text>
<text transform="translate(298.09,677.40) scale(1.0439,1)" font-size="17.60" fill="#000">NoConst.</text>
<text transform="translate(372.78,662.44) scale(1.0402,1)" font-size="29.73" fill="#000">(</text>
<text transform="translate(383.24,665.60) scale(1.0279,1)" font-size="29.81" fill="#000">k</text>
<text transform="translate(397.10,665.30) scale(1.2669,1)" font-size="28.95" fill="#000">,</text>
<text transform="translate(406.01,665.60) scale(0.8765,1)" font-size="30.52" fill="#000">E</text>
<text transform="translate(424.27,657.83) scale(1.0362,1)" font-size="25.92" fill="#000">*</text>
<text transform="translate(435.12,662.44) scale(1.0402,1)" font-size="29.73" fill="#000">)</text>
<text transform="translate(277.83,717.00) scale(1.0280,1)" font-size="30.52" fill="#000">P</text>
<text transform="translate(298.73,701.40) scale(1.0863,1)" font-size="17.60" fill="#000">Soft</text>
<text transform="translate(298.65,728.80) scale(1.0586,1)" font-size="17.60" fill="#000">Const.</text>
<text transform="translate(350.98,713.84) scale(1.0402,1)" font-size="29.73" fill="#000">(</text>
<text transform="translate(361.44,717.00) scale(1.0279,1)" font-size="29.81" fill="#000">k</text>
<text transform="translate(375.30,716.70) scale(1.2669,1)" font-size="28.95" fill="#000">,</text>
<text transform="translate(384.21,717.00) scale(0.8765,1)" font-size="30.52" fill="#000">E</text>
<text transform="translate(402.47,709.23) scale(1.0362,1)" font-size="25.92" fill="#000">*</text>
<text transform="translate(413.32,713.84) scale(1.0402,1)" font-size="29.73" fill="#000">)</text>
<text transform="translate(277.83,768.40) scale(1.0280,1)" font-size="30.52" fill="#000">P</text>
<text transform="translate(298.11,752.80) scale(1.0318,1)" font-size="17.60" fill="#000">Hard</text>
<text transform="translate(298.09,780.20) scale(1.0439,1)" font-size="17.60" fill="#000">NoConst.</text>
<text transform="translate(372.78,765.24) scale(1.0402,1)" font-size="29.73" fill="#000">(</text>
<text transform="translate(383.24,768.40) scale(1.0279,1)" font-size="29.81" fill="#000">k</text>
<text transform="translate(397.10,768.10) scale(1.2669,1)" font-size="28.95" fill="#000">,</text>
<text transform="translate(406.01,768.40) scale(0.8765,1)" font-size="30.52" fill="#000">E</text>
<text transform="translate(424.27,760.63) scale(1.0362,1)" font-size="25.92" fill="#000">*</text>
<text transform="translate(435.12,765.24) scale(1.0402,1)" font-size="29.73" fill="#000">)</text>
<text transform="translate(277.83,819.80) scale(1.0280,1)" font-size="30.52" fill="#000">P</text>
<text transform="translate(298.11,804.20) scale(1.0318,1)" font-size="17.60" fill="#000">Hard</text>
<text transform="translate(298.65,831.60) scale(1.0586,1)" font-size="17.60" fill="#000">Const.</text>
<text transform="translate(350.98,816.64) scale(1.0402,1)" font-size="29.73" fill="#000">(</text>
<text transform="translate(361.44,819.80) scale(1.0279,1)" font-size="29.81" fill="#000">k</text>
<text transform="translate(375.30,819.50) scale(1.2669,1)" font-size="28.95" fill="#000">,</text>
<text transform="translate(384.21,819.80) scale(0.8765,1)" font-size="30.52" fill="#000">E</text>
<text transform="translate(402.47,812.03) scale(1.0362,1)" font-size="25.92" fill="#000">*</text>
<text transform="translate(413.32,816.64) scale(1.0402,1)" font-size="29.73" fill="#000">)</text>
<text transform="translate(557.43,720.20) scale(1.0280,1)" font-size="30.52" fill="#000">P</text>
<text transform="translate(578.36,704.60) scale(1.0463,1)" font-size="17.60" fill="#000">Soft+Hard</text>
<text transform="translate(577.69,732.00) scale(1.0467,1)" font-size="17.60" fill="#000">NoConst.</text>
<text transform="translate(660.18,717.04) scale(1.0402,1)" font-size="29.73" fill="#000">(</text>
<text transform="translate(670.64,720.20) scale(1.0279,1)" font-size="29.81" fill="#000">k</text>
<text transform="translate(684.50,719.90) scale(1.2669,1)" font-size="28.95" fill="#000">,</text>
<text transform="translate(693.41,720.20) scale(0.8765,1)" font-size="30.52" fill="#000">E</text>
<text transform="translate(711.67,712.43) scale(1.0362,1)" font-size="25.92" fill="#000">*</text>
<text transform="translate(722.52,717.04) scale(1.0402,1)" font-size="29.73" fill="#000">)</text>
<text transform="translate(557.43,771.80) scale(1.0280,1)" font-size="30.52" fill="#000">P</text>
<text transform="translate(578.36,756.20) scale(1.0463,1)" font-size="17.60" fill="#000">Soft+Hard</text>
<text transform="translate(578.26,783.60) scale(1.0565,1)" font-size="17.60" fill="#000">Const.</text>
<text transform="translate(660.18,768.64) scale(1.0402,1)" font-size="29.73" fill="#000">(</text>
<text transform="translate(670.64,771.80) scale(1.0279,1)" font-size="29.81" fill="#000">k</text>
<text transform="translate(684.50,771.50) scale(1.2669,1)" font-size="28.95" fill="#000">,</text>
<text transform="translate(693.41,771.80) scale(0.8765,1)" font-size="30.52" fill="#000">E</text>
<text transform="translate(711.67,764.03) scale(1.0362,1)" font-size="25.92" fill="#000">*</text>
<text transform="translate(722.52,768.64) scale(1.0402,1)" font-size="29.73" fill="#000">)</text>
<text transform="translate(557.43,823.20) scale(1.0280,1)" font-size="30.52" fill="#000">P</text>
<text transform="translate(577.69,835.00) scale(1.0461,1)" font-size="17.60" fill="#000">Exact</text>
<text transform="translate(623.38,820.04) scale(1.0402,1)" font-size="29.73" fill="#000">(</text>
<text transform="translate(633.84,823.20) scale(1.0279,1)" font-size="29.81" fill="#000">k</text>
<text transform="translate(647.70,822.90) scale(1.2669,1)" font-size="28.95" fill="#000">,</text>
<text transform="translate(656.61,823.20) scale(0.8765,1)" font-size="30.52" fill="#000">E</text>
<text transform="translate(674.87,815.43) scale(1.0362,1)" font-size="25.92" fill="#000">*</text>
<text transform="translate(685.72,820.04) scale(1.0402,1)" font-size="29.73" fill="#000">)</text>
<path d="M235.85,646.9 L242.85,658.9 L228.85,658.9Z" fill="#008000"/>
<path d="M202,706.1 H265.3" stroke="#008000" stroke-width="2.4" stroke-dasharray="11.5 3.75 3.5 3.75" fill="none"/>
<path d="M236.1,750.8 L243.0,758.4 L236.1,766.0 L229.2,758.4Z" fill="#ff00ff"/>
<path d="M203.35,809.2 H268.6" stroke="#ff00ff" stroke-width="2.5" stroke-dasharray="1.1 9.43" stroke-linecap="round" fill="none"/>
<path d="M510.1,704.4h10.2v10.2h-10.2Z" fill="#0000ff"/>
<path d="M481.7,760.6 H544.2" stroke="#0000ff" stroke-width="2.4" stroke-dasharray="9.7 7.8" fill="none"/>
<path d="M481.7,812.2 H549.1" stroke="#ff0000" stroke-width="2.5" fill="none"/>
</svg>
</body></html>
